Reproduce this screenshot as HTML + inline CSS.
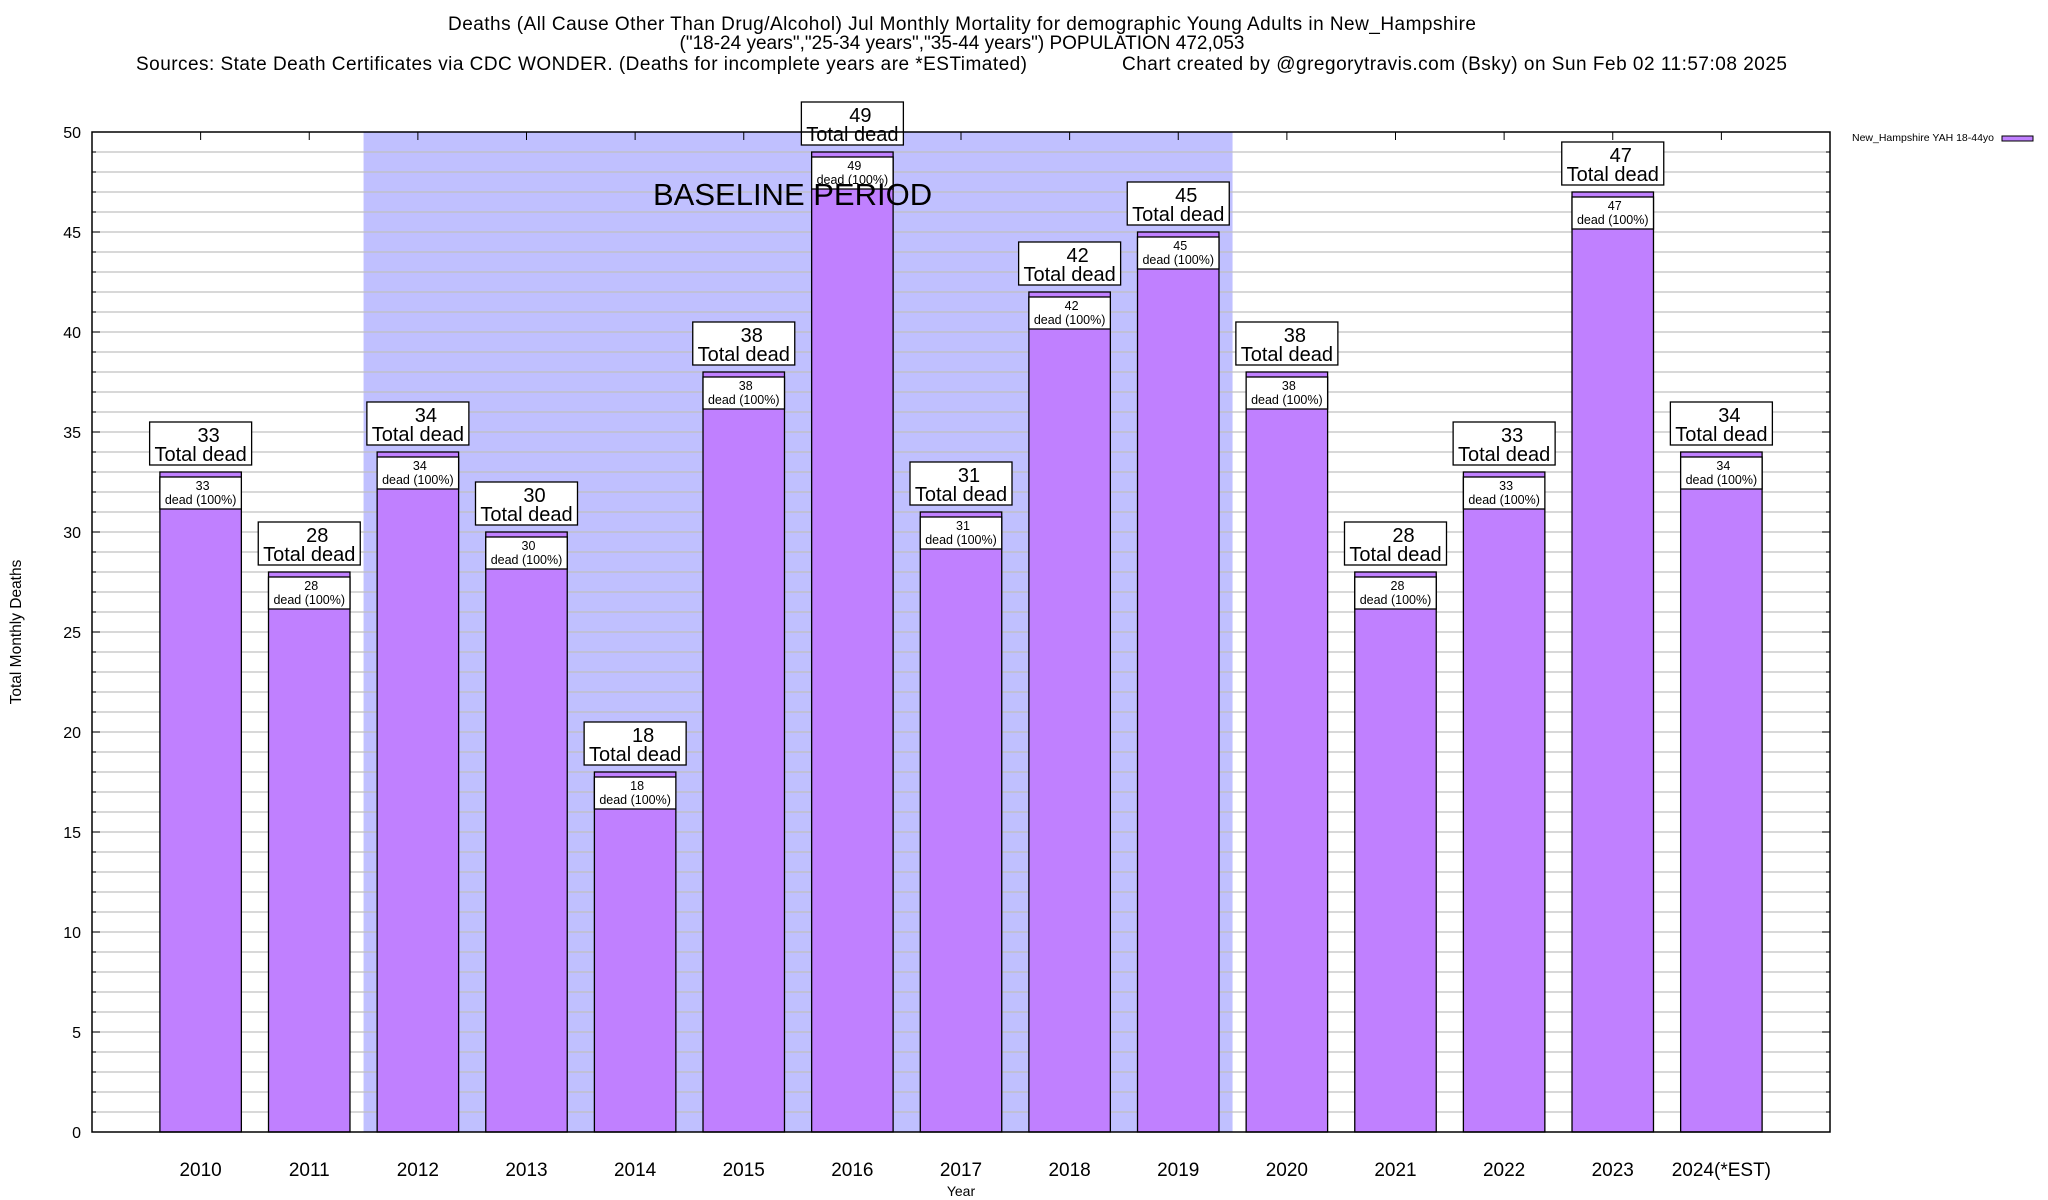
<!DOCTYPE html>
<html><head><meta charset="utf-8"><style>
html,body{margin:0;padding:0;background:#fff}
svg{display:block;font-family:"Liberation Sans",Arial,sans-serif}
</style></head><body>
<svg id="chart" width="2048" height="1200" viewBox="0 0 2048 1200">
<g font-size="19" fill="#000">
<text x="962" y="30" text-anchor="middle" textLength="1028">Deaths (All Cause Other Than Drug/Alcohol) Jul Monthly Mortality for demographic Young Adults in New_Hampshire</text>
<text x="962" y="49" text-anchor="middle">("18-24 years","25-34 years","35-44 years") POPULATION 472,053</text>
<text x="136" y="70" textLength="891">Sources: State Death Certificates via CDC WONDER. (Deaths for incomplete years are *ESTimated)</text>
<text x="1122" y="70" textLength="665">Chart created by @gregorytravis.com (Bsky) on Sun Feb 02 11:57:08 2025</text>
</g>
<g id="plot"></g>
</svg>
<script>
const categories = ["2010","2011","2012","2013","2014","2015","2016","2017","2018","2019","2020","2021","2022","2023","2024(*EST)"];
const values = [33,28,34,30,18,38,49,31,42,45,38,28,33,47,34];
const yTicks = [0,5,10,15,20,25,30,35,40,45,50];
const baselineStart = 2.5, baselineEnd = 10.5;

const L=92,R=1830,T=132,B=1132,yMax=50,xMax=16;
const NS="http://www.w3.org/2000/svg";
const g=document.getElementById('plot');
function X(u){return L+(R-L)*u/xMax;}
function Y(v){return B-(B-T)*v/yMax;}
function mk(tag,attrs,parent){const e=document.createElementNS(NS,tag);for(const k in attrs)e.setAttribute(k,attrs[k]);(parent||g).appendChild(e);return e;}

const band=mk('rect',{x:X(baselineStart),y:T,width:X(baselineEnd)-X(baselineStart),height:B-T,fill:'#c0c0ff'});


for(let v=1;v<yMax;v++){
  const gl=mk('line',{x1:L,x2:R,y1:Y(v),y2:Y(v),stroke:'#c0c0c0','stroke-width':1.3});
  
  
  const t1=mk('line',{x1:L,x2:L+(v%5?4:8),y1:Y(v),y2:Y(v),stroke:'#000'});
  
  
  const t2=mk('line',{x1:R,x2:R-(v%5?4:8),y1:Y(v),y2:Y(v),stroke:'#000'});
  
  
}

yTicks.forEach(v=>{
  const t=mk('text',{x:81,y:Y(v)+6,'text-anchor':'end','font-size':16});
  t.textContent=v;
  
  
});

categories.forEach((c,i)=>{
  const cx=X(i+1), v=values[i], bw=(R-L)/xMax*0.75;
  const tk=mk('line',{x1:cx,x2:cx,y1:T,y2:T+8,stroke:'#000'});
  
  
  const bar=mk('rect',{x:cx-bw/2,y:Y(v),width:bw,height:B-Y(v),fill:'#c080ff',stroke:'#000','stroke-width':1.3});
  
  
  const ib=mk('rect',{x:cx-bw/2,y:Y(v)+5,width:bw,height:32,fill:'#fff',stroke:'#000','stroke-width':1.3});
  
  
  const it1=mk('text',{x:cx+2,y:Y(v)+18,'text-anchor':'middle','font-size':12.5});
  it1.textContent=v;
  
  
  const it2=mk('text',{x:cx,y:Y(v)+32,'text-anchor':'middle','font-size':12.5});
  it2.textContent='dead (100%)';
  
  
  const ob=mk('rect',{x:cx-51,y:Y(v)-50,width:102,height:43,fill:'#fff',stroke:'#000','stroke-width':1.3});
  
  
  const ot1=mk('text',{x:cx+8,y:Y(v)-30,'text-anchor':'middle','font-size':20});
  ot1.textContent=v;
  
  
  const ot2=mk('text',{x:cx,y:Y(v)-11,'text-anchor':'middle','font-size':20});
  ot2.textContent='Total dead';
  
  
  const xl=mk('text',{x:cx,y:1176,'text-anchor':'middle','font-size':19});
  xl.textContent=c;
  
  
});

const bl=mk('text',{x:653,y:205,'font-size':31});
bl.textContent='BASELINE PERIOD';



const frame=mk('rect',{x:L,y:T,width:R-L,height:B-T,fill:'none',stroke:'#000','stroke-width':1.5});


const yt=mk('text',{x:0,y:0,'text-anchor':'middle','font-size':15.5,transform:'translate(21,632) rotate(-90)'});
yt.textContent='Total Monthly Deaths';


const xt=mk('text',{x:961,y:1196,'text-anchor':'middle','font-size':14});
xt.textContent='Year';


const lt=mk('text',{x:1852,y:141,'font-size':10.5});
lt.textContent='New_Hampshire YAH 18-44yo';


const ls=mk('rect',{x:2002,y:136,width:31,height:5,fill:'#c080ff',stroke:'#000','stroke-width':1});


</script>
</body></html>
